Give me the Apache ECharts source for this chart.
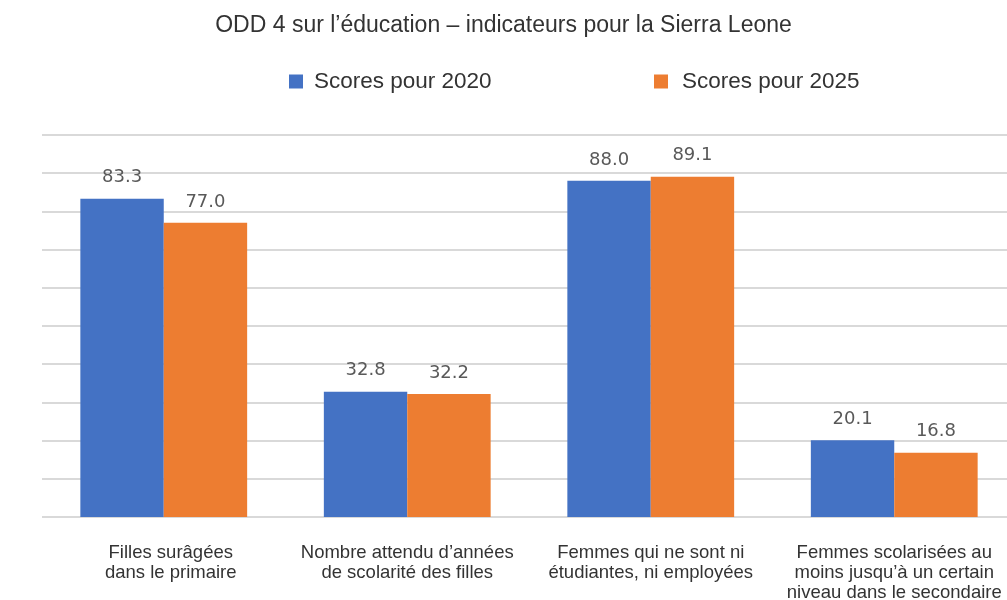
<!DOCTYPE html>
<html>
<head>
<meta charset="utf-8">
<script src="https://cdn.jsdelivr.net/npm/echarts@6/dist/echarts.min.js"></script>
<style>
  html, body { margin:0; padding:0; background:#fff; }
  #main { width:1007px; height:600px; }
</style>
</head>
<body>
<div id="main"></div>
<script>
// données
var categories = [
  'Filles surâgées\ndans le primaire',
  'Nombre attendu d\u2019années\nde scolarité des filles',
  'Femmes qui ne sont ni\nétudiantes, ni employées',
  'Femmes scolarisées au\nmoins jusqu\u2019à un certain\nniveau dans le secondaire'
];
var scores2020 = [83.3, 32.8, 88.0, 20.1];
var scores2025 = [77.0, 32.2, 89.1, 16.8];
var seriesNames = ['Scores pour 2020', 'Scores pour 2025'];

var font = 'Liberation Sans, Arial, sans-serif';

var labelStyle = {
  show: true,
  position: 'top',
  distance: 12,
  color: '#595959',
  fontSize: 18,
  fontFamily: 'DejaVu Sans, sans-serif',
  formatter: function(p){ return p.value.toFixed(1); }
};

function legendAt(name, left, pad) {
  return {
    data: [name],
    left: left,
    top: 65,
    itemWidth: 14,
    itemHeight: 14,
    icon: 'rect',
    textStyle: { fontFamily: font, fontSize: 22.5, color: '#333', padding: [0, 0, 0, pad] }
  };
}

// le premier libellé est un peu décalé vers la droite dans l'original
var xData = categories.map(function(c, i){
  return i === 0 ? { value: c, textStyle: { padding: [0, 0, 0, 14] } } : c;
});

var option = {
  backgroundColor: '#fff',
  animation: false,
  title: {
    text: 'ODD 4 sur l\u2019éducation \u2013 indicateurs pour la Sierra Leone',
    left: 'center',
    top: 9,
    textStyle: { fontFamily: font, fontSize: 23, fontWeight: 'normal', color: '#333' }
  },
  legend: [
    legendAt(seriesNames[0], 284, 6),
    legendAt(seriesNames[1], 649, 9)
  ],
  grid: { left: 42, width: 974, top: 135, height: 382, outerBoundsMode: 'none', containLabel: false },
  xAxis: {
    type: 'category',
    data: xData,
    axisLine: { show: false },
    axisTick: { show: false },
    axisLabel: {
      interval: 0,
      margin: 26,
      color: '#333',
      fontFamily: font,
      fontSize: 18.5,
      lineHeight: 20
    }
  },
  yAxis: {
    type: 'value',
    min: 0,
    max: 100,
    interval: 10,
    axisLabel: { show: false },
    axisLine: { show: false },
    axisTick: { show: false },
    splitLine: { lineStyle: { color: '#d9d9d9', width: 2 } }
  },
  series: [
    {
      name: seriesNames[0],
      type: 'bar',
      data: scores2020,
      barGap: '0%',
      barCategoryGap: '31.5%',
      itemStyle: { color: '#4472C4' },
      label: labelStyle
    },
    {
      name: seriesNames[1],
      type: 'bar',
      data: scores2025,
      itemStyle: { color: '#ED7D31' },
      label: labelStyle
    }
  ]
};

var myChart = echarts.init(document.getElementById('main'));
myChart.setOption(option);
</script>
</body>
</html>
